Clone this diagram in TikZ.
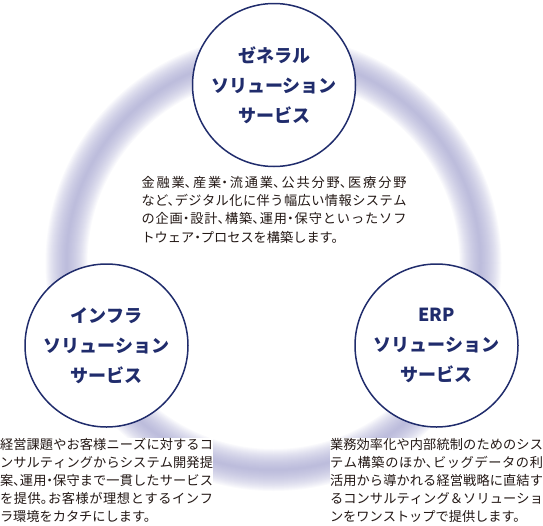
\documentclass[tikz,border=0pt]{standalone}
\usepackage{fontspec}
\setmainfont{Noto Sans CJK JP}[RawFeature=+halt]
\usetikzlibrary{positioning}
\XeTeXlinebreaklocale "ja"
\XeTeXlinebreakskip=0pt plus 3pt
\setlength\parindent{0pt}
\definecolor{navy}{RGB}{32,44,108}
\definecolor{haze}{RGB}{160,160,205}
\definecolor{ink}{RGB}{35,24,21}
\tikzset{
  svc/.style={circle, draw=navy, line width=1.5pt, fill=white,
              minimum size=163pt, inner sep=0pt, align=center, text=navy,
              font=\bfseries\fontsize{18}{30}\selectfont},
  desc/.style={inner sep=0pt, align=justify, text=ink, fill=white,
               font=\fontsize{13.2}{18.2}\selectfont},
  haze ring/.style={haze, opacity=0.055},
}

\begin{document}
\begin{tikzpicture}[x=1pt, y=-1pt]
  \useasboundingbox (0,0) rectangle (543,525);
  % soft ring behind the three services
  \coordinate (hub) at (273.5,263);
  \foreach \w in {42,40,...,2}
    \draw[haze ring, line width=\w pt] (hub) circle (207pt);
  % service circles
  \node[svc] (gen) at (274,85) {ゼネラル\\ソリューション\\サービス};
  \node[svc] (infra) at (106.5,345.5) {インフラ\\ソリューション\\サービス};
  \node[svc] (erp) at (436.5,345.5) {ERP\\ソリューション\\サービス};
  % descriptions
  \node[desc, text width=265pt, below=9pt of gen] (gentxt)
    {金融業、産業・流通業、公共分野、医療分野\linebreak
     など、デジタル化に伴う幅広い情報システム\linebreak
     の企画・設計、構築、運用・保守といったソフ\linebreak
     トウェア・プロセスを構築します。};
  \node[desc, text width=213pt, below=10pt of infra] (infratxt)
    {経営課題やお客様ニーズに対するコ\linebreak
     ンサルティングからシステム開発提\linebreak
     案、運用・保守まで一貫したサービス\linebreak
     を提供。お客様が理想とするインフ\linebreak
     ラ環境をカタチにします。};
  \node[desc, text width=213pt, below=10pt of erp] (erptxt)
    {業務効率化や内部統制のためのシス\linebreak
     テム構築のほか、ビッグデータの利\linebreak
     活用から導かれる経営戦略に直結す\linebreak
     るコンサルティング＆ソリューショ\linebreak
     ンをワンストップで提供します。};
\end{tikzpicture}
\end{document}
